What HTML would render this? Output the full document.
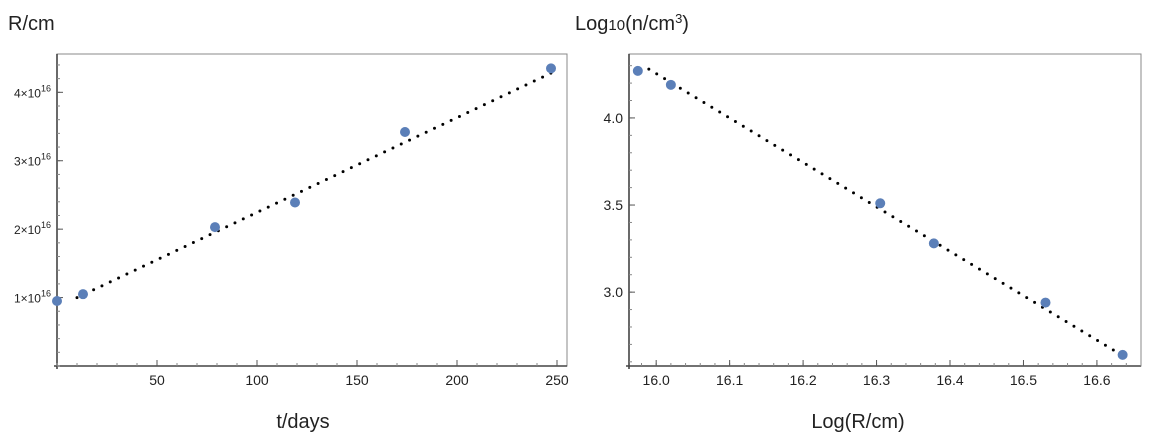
<!DOCTYPE html>
<html><head><meta charset="utf-8"><style>
body{margin:0;background:#fff;width:1174px;height:442px;overflow:hidden;font-family:"Liberation Sans",sans-serif}
svg text{font-family:"Liberation Sans",sans-serif}
</style></head><body>
<svg id="s" width="1174" height="442">
<text x="8" y="30" font-size="20" fill="#222">R/cm</text>
<text x="575" y="30" font-size="20" fill="#222">Log<tspan font-size="15">10</tspan>(n/cm<tspan font-size="13" dy="-7">3</tspan><tspan dy="7">)</tspan></text>
<text x="303" y="428" font-size="20" fill="#222" text-anchor="middle">t/days</text>
<text x="858" y="428" font-size="20" fill="#222" text-anchor="middle">Log(R/cm)</text>
<g id="L"></g>
<g id="R"></g>
</svg>
<script>
const tDays=[0,13,79,119,174,247];
const radius=[0.95,1.05,2.03,2.39,3.42,4.35];
const leftXTicks=[50,100,150,200,250];
const leftYTicks=[1,2,3,4];
const leftFit=[10,247,0.86,0.01385];
const logR=[15.975,16.02,16.305,16.378,16.53,16.635];
const logN=[4.27,4.19,3.51,3.28,2.94,2.64];
const rightXTicks=["16.0","16.1","16.2","16.3","16.4","16.5","16.6"];
const rightYTicks=["3.0","3.5","4.0"];
const rightFit=[15.99,16.63,4.28,-2.55];
const NS="http://www.w3.org/2000/svg";
function mk(p,t,a){const e=document.createElementNS(NS,t);for(const k in a)e.setAttribute(k,a[k]);p.appendChild(e);return e;}
function panel(g,x0,x1,y0,y1,dx0,dx1,dy0,dy1,xt,yt,minorX,minorY,yLabel,xs,ys,fit,name){
 const sx=v=>x0+(v-dx0)/(dx1-dx0)*(x1-x0), sy=v=>y1-(v-dy0)/(dy1-dy0)*(y1-y0);
 let e=mk(g,'rect',{x:x0,y:y0,width:x1-x0,height:y1-y0,fill:'#fff',stroke:'#888','stroke-width':1});
 
 mk(g,'line',{x1:x0,y1:y0,x2:x0,y2:y1+3,stroke:'#444','stroke-width':1.6});
 mk(g,'line',{x1:x0-3,y1:y1,x2:x1,y2:y1,stroke:'#444','stroke-width':1.6});
 for(let v=Math.ceil(dx0/minorX)*minorX;v<=dx1;v+=minorX){mk(g,'line',{x1:sx(v),y1:y1,x2:sx(v),y2:y1-3,stroke:'#888'});}
 for(let v=Math.ceil(dy0/minorY)*minorY;v<=dy1;v+=minorY){mk(g,'line',{x1:x0,y1:sy(v),x2:x0+3,y2:sy(v),stroke:'#888'});}
 xt.forEach(v=>{mk(g,'line',{x1:sx(+v),y1:y1,x2:sx(+v),y2:y1-6,stroke:'#555'});
  const t=mk(g,'text',{x:sx(+v),y:y1+19,'font-size':14,'text-anchor':'middle',fill:'#222'});t.textContent=v;
  });
 yt.forEach(v=>{mk(g,'line',{x1:x0,y1:sy(+v),x2:x0+6,y2:sy(+v),stroke:'#555'});
  const t=mk(g,'text',{x:x0-6,y:sy(+v)+5,'font-size':14,'text-anchor':'end',fill:'#222'});
  if(yLabel){t.innerHTML=v+'×10<tspan font-size="9" dy="-6">16</tspan>';t.setAttribute('font-size',12);}else t.textContent=v;
  });
 const l=mk(g,'line',{x1:sx(fit[0]),y1:sy(fit[2]+fit[3]*(fit[0]-(name=='left'?0:fit[0]))),x2:sx(fit[1]),y2:sy(fit[2]+fit[3]*(fit[1]-(name=='left'?0:fit[0]))),stroke:'#000','stroke-width':3,'stroke-dasharray':'0 9.2','stroke-linecap':'round'});
 
 xs.forEach((v,i)=>{const c=mk(g,'circle',{cx:sx(v),cy:sy(ys[i]),r:5,fill:'#5b7fb8'});
  });
}
panel(document.getElementById('L'),57,567,54,366,0,255,0,4.56,leftXTicks,leftYTicks,10,0.2,true,tDays,radius,leftFit,'left');
panel(document.getElementById('R'),629,1141,54,366,15.963,16.66,2.576,4.367,rightXTicks,rightYTicks,0.02,0.1,false,logR,logN,rightFit,'right');
</script>
</body></html>
